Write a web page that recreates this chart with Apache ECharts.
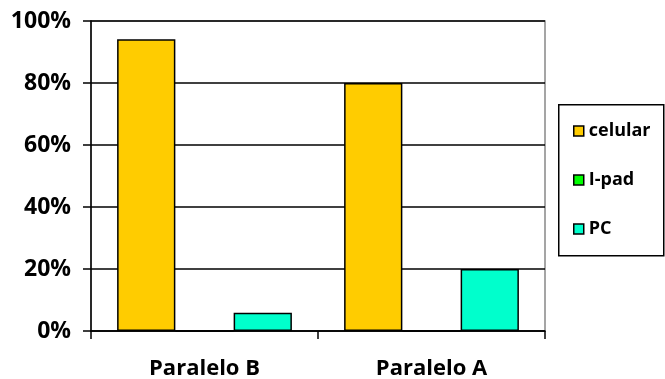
<!DOCTYPE html>
<html>
<head>
<meta charset="utf-8">
<script src="https://cdn.jsdelivr.net/npm/echarts@6/dist/echarts.min.js"></script>
<style>
  html, body { margin: 0; padding: 0; background: #fff; }
  #chart { width: 665px; height: 379px; }
</style>
</head>
<body>
<div id="chart"></div>
<script>
// Categories and series values (percent)
const categories = ['Paralelo B', 'Paralelo A'];
const celular = [94.1, 80];
const ipad = [0, 0];
const pc = [5.9, 20];
const seriesNames = ['celular', 'I-pad', 'PC'];
const seriesColors = ['#FFCC00', '#00FF00', '#00FFCC'];

const chart = echarts.init(document.getElementById('chart'), null, { renderer: 'canvas' });
const fontFamily = '"Open Sans", Lato, sans-serif';

function barSeries(name, data, color) {
  return {
    name: name,
    type: 'bar',
    data: data,
    barGap: '0%',
    barCategoryGap: '23%',
    itemStyle: { color: color, borderColor: '#000', borderWidth: 1.5 },
    animation: false
  };
}

chart.setOption({
  animation: false,
  grid: {
    left: 91, right: 120, top: 21, bottom: 48,
    outerBoundsMode: 'none',
    containLabel: false,
    show: true, borderColor: '#888', borderWidth: 1.5, backgroundColor: 'transparent'
  },
  // legend frame
  graphic: [{
    type: 'rect',
    left: 558,
    top: 104,
    shape: { width: 105, height: 151 },
    style: { fill: '#fff', stroke: '#000', lineWidth: 1.5 },
    z: 0
  }],
  legend: {
    orient: 'vertical',
    left: 573,
    top: 122,
    padding: 0,
    itemGap: 31,
    itemWidth: 10,
    itemHeight: 10,
    icon: 'rect',
    itemStyle: { borderColor: '#000', borderWidth: 1.5 },
    textStyle: { fontFamily: fontFamily, fontWeight: 'bold', fontSize: 18, color: '#000', padding: [0, 0, 0, 0] },
    data: seriesNames,
    z: 5
  },
  xAxis: {
    type: 'category',
    data: categories,
    axisLine: { lineStyle: { color: '#000', width: 1.5 } },
    axisTick: { show: true, length: 8, lineStyle: { color: '#000', width: 1.5 } },
    axisLabel: { margin: 27, fontFamily: fontFamily, fontWeight: 'bold', fontSize: 22, color: '#000' }
  },
  yAxis: {
    type: 'value',
    min: 0,
    max: 100,
    interval: 20,
    axisLine: { show: true, lineStyle: { color: '#000', width: 1.5 } },
    axisTick: { show: true, length: 8, lineStyle: { color: '#000', width: 1.5 } },
    axisLabel: { margin: 20, fontFamily: fontFamily, fontWeight: 'bold', fontSize: 23, color: '#000', formatter: '{value}%' },
    splitLine: { lineStyle: { color: '#000', width: 1.5 } }
  },
  series: [
    barSeries(seriesNames[0], celular, seriesColors[0]),
    barSeries(seriesNames[1], ipad, seriesColors[1]),
    barSeries(seriesNames[2], pc, seriesColors[2])
  ]
});
</script>
</body>
</html>
